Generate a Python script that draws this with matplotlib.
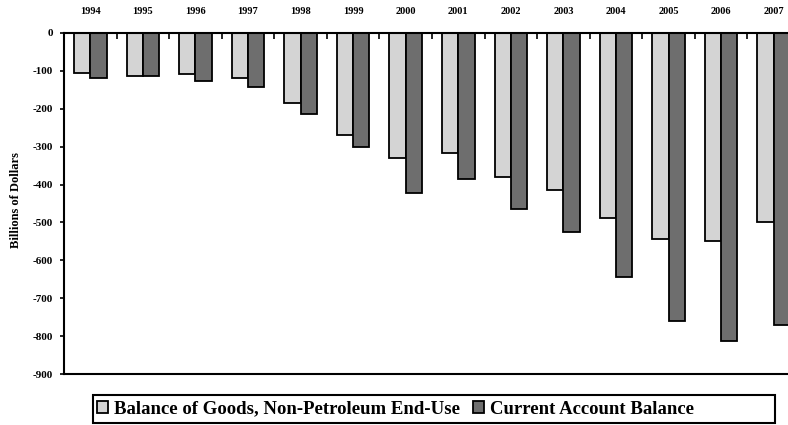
import matplotlib
matplotlib.use("Agg")
import matplotlib.pyplot as plt
from matplotlib.patches import Rectangle
import numpy as np

years = ["1994", "1995", "1996", "1997", "1998", "1999", "2000",
         "2001", "2002", "2003", "2004", "2005", "2006", "2007"]
goods_non_petroleum = [-106, -113, -108, -118, -186, -268, -331,
                       -317, -379, -415, -489, -543, -549, -499]
current_account = [-120, -113, -126, -142, -215, -300, -421,
                   -385, -465, -526, -645, -759, -814, -770]
yticks = [0, -100, -200, -300, -400, -500, -600, -700, -800, -900]

fig = plt.figure(figsize=(7.88, 4.25), dpi=100)
ax = fig.add_axes([64/788, 1 - 374/425, (800 - 64)/788, (374 - 33)/425])

x = np.arange(len(years))
w = 0.31
ax.bar(x - w/2, goods_non_petroleum, width=w, color="#d4d4d4", edgecolor="black",
       linewidth=1.3, label="Balance of Goods, Non-Petroleum End-Use")
ax.bar(x + w/2, current_account, width=w, color="#6e6e6e", edgecolor="black",
       linewidth=1.3, label="Current Account Balance")

ax.set_xlim(-0.5, len(years) - 0.5)
ax.set_ylim(-900, 0)
ax.set_yticks(yticks)
ax.set_yticklabels([str(v) for v in yticks], fontsize=8, fontweight="bold",
                   family="Liberation Serif")
ax.xaxis.tick_top()
ax.set_xticks(x)
ax.set_xticklabels(years, fontsize=7.5, fontweight="bold", family="Liberation Serif")
ax.tick_params(axis="x", which="major", length=0, pad=12)
ax.set_xticks(np.arange(0.5, len(years) - 0.5, 1), minor=True)
ax.tick_params(axis="x", which="minor", direction="in", length=4, width=1.2)
ax.tick_params(axis="y", direction="out", length=3, width=1.2, pad=5)
for s in ["left", "top", "bottom"]:
    ax.spines[s].set_linewidth(1.5)
ax.spines["right"].set_visible(False)
ax.set_ylabel("Billions of Dollars", fontsize=9, fontweight="bold",
              family="Liberation Serif")
ax.yaxis.set_label_coords(-42/736, 0.51)

leg = fig.legend(loc="center left",
                 bbox_to_anchor=(94/788, 1 - 409/425),
                 ncol=2, frameon=False,
                 prop={"family": "Liberation Serif", "weight": "bold", "size": 13.5},
                 handlelength=0.6, handleheight=0.6, handletextpad=0.3,
                 columnspacing=0.7, borderpad=0.15, borderaxespad=0)
fig.add_artist(Rectangle((93/788, 1 - 423/425), (775 - 93)/788, 28/425,
                         transform=fig.transFigure, fill=False,
                         edgecolor="black", linewidth=1.5))

fig.savefig("out.png", dpi=100)
